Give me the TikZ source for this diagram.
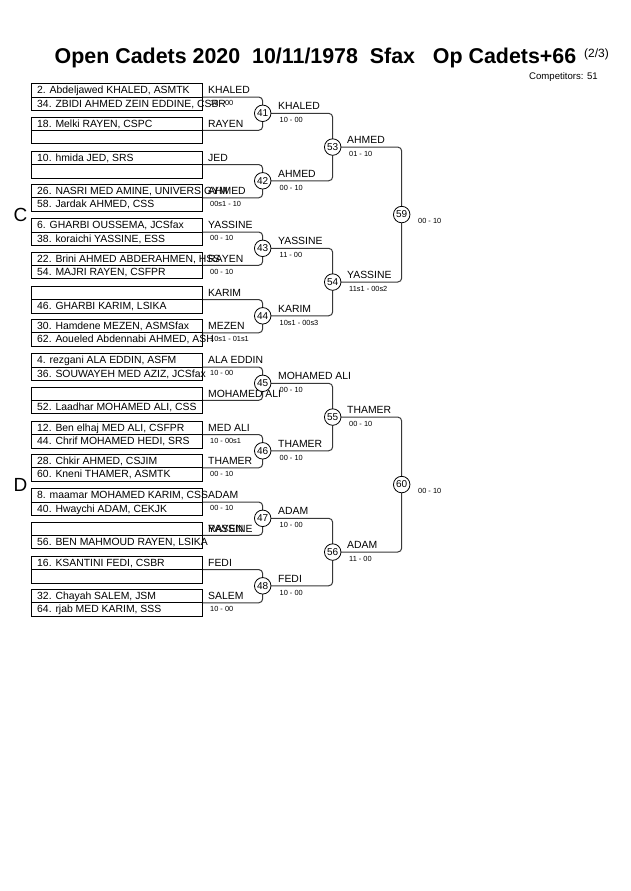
\documentclass[tikz,border=0pt]{standalone}
\usepackage{fontspec}
\setmainfont{Liberation Sans}
\tikzset{
  entrybox/.style={draw=black, line width=0.75pt, minimum width=171pt, minimum height=26.7pt, inner sep=0pt, anchor=north west},
  boxline/.style={draw=black, line width=0.75pt},
  nm/.style={font=\fontsize{10.4}{12}\selectfont, anchor=base west, inner sep=0pt},
  sc/.style={font=\fontsize{7.4}{9}\selectfont, anchor=base west, inner sep=0pt},
  mcirc/.style={circle, draw=black, fill=white, line width=0.8pt, minimum size=16.5pt, inner sep=0pt, font=\fontsize{10}{12}\selectfont},
  link/.style={draw=black!78, line width=1pt, rounded corners=4pt},
  sect/.style={inner sep=0pt, font=\fontsize{19}{21}\selectfont},
}
% #1 id, #2 top, #3 row1, #4 row2, #5 winner, #6 score
\newcommand\ebox[6]{%
  \node[entrybox] (#1) at (31,#2) {};
  \draw[boxline] (#1.west) -- (#1.east);
  \node[nm] (#1r1) at (37,{#2+10.4}) {#3};
  \node[nm] (#1r2) at (37,{#2+23.75}) {#4};
  \node[nm] (#1w) at (208,{#2+10.4}) {#5};
  \node[sc] (#1s) at (210,{#2+22.65}) {#6};
}
% #1 id, #2 center y, #3 name, #4 score
\newcommand\rtwo[4]{%
  \node[nm] (#1n) at (278,{#2-3.6}) {#3};
  \node[sc] (#1s) at (279.5,{#2+9.35}) {#4};
}
\newcommand\rthree[4]{%
  \node[nm] (#1n) at (347,{#2-3.75}) {#3};
  \node[sc] (#1s) at (349,{#2+9.15}) {#4};
}
\begin{document}
\begin{tikzpicture}[x=1pt,y=-1pt]
\useasboundingbox[fill=white] (0,0) rectangle (630,891);

% title
\node[anchor=base west, inner sep=0pt, font=\bfseries\fontsize{21.4}{24}\selectfont] (title) at (54.5,63.3) {Open Cadets 2020~~10/11/1978~~Sfax~~~Op Cadets+66};
\node[anchor=base west, inner sep=0pt, font=\fontsize{12}{14}\selectfont] (pg) at (584,57) {(2/3)};
\node[anchor=base east, inner sep=0pt, font=\fontsize{9.6}{11}\selectfont] (comp) at (598,79) {Competitors: 51};

\node[sect] (lc) at (20.5,214.6) {C};
\node[sect] (ld) at (20.5,484.6) {D};

% entry boxes
\ebox{a41}{83.3}{2. Abdeljawed KHALED, ASMTK}{34. ZBIDI AHMED ZEIN EDDINE, CSBR}{KHALED}{10 - 00}
\ebox{b41}{116.6}{18. Melki RAYEN, CSPC}{}{RAYEN}{}
\ebox{a42}{150.8}{10. hmida JED, SRS}{}{JED}{}
\ebox{b42}{184.1}{26. NASRI MED AMINE, UNIVERS GYM}{58. Jardak AHMED, CSS}{AHMED}{00s1 - 10}
\ebox{a43}{218.3}{6. GHARBI OUSSEMA, JCSfax}{38. koraichi YASSINE, ESS}{YASSINE}{00 - 10}
\ebox{b43}{251.6}{22. Brini AHMED ABDERAHMEN, HSS}{54. MAJRI RAYEN, CSFPR}{RAYEN}{00 - 10}
\ebox{a44}{285.8}{}{46. GHARBI KARIM, LSIKA}{KARIM}{}
\ebox{b44}{319.1}{30. Hamdene MEZEN, ASMSfax}{62. Aoueled Abdennabi AHMED, ASH}{MEZEN}{10s1 - 01s1}
\ebox{a45}{353.3}{4. rezgani ALA EDDIN, ASFM}{36. SOUWAYEH MED AZIZ, JCSfax}{ALA EDDIN}{10 - 00}
\ebox{b45}{386.6}{}{52. Laadhar MOHAMED ALI, CSS}{MOHAMED ALI}{}
\ebox{a46}{420.8}{12. Ben elhaj MED ALI, CSFPR}{44. Chrif MOHAMED HEDI, SRS}{MED ALI}{10 - 00s1}
\ebox{b46}{454.1}{28. Chkir AHMED, CSJIM}{60. Kneni THAMER, ASMTK}{THAMER}{00 - 10}
\ebox{a47}{488.3}{8. maamar MOHAMED KARIM, CSS}{40. Hwaychi ADAM, CEKJK}{ADAM}{00 - 10}
\ebox{b47}{521.6}{}{56. BEN MAHMOUD RAYEN, LSIKA}{RAYEN}{}
\node[nm] (b47w2) at (208,532.0) {YASSINE};
\ebox{a48}{555.8}{16. KSANTINI FEDI, CSBR}{}{FEDI}{}
\ebox{b48}{589.1}{32. Chayah SALEM, JSM}{64. rjab MED KARIM, SSS}{SALEM}{10 - 00}

% match positions
\coordinate (p41) at (262.7,113.3);
\coordinate (p42) at (262.7,180.8);
\coordinate (p43) at (262.7,248.3);
\coordinate (p44) at (262.7,315.8);
\coordinate (p45) at (262.7,383.3);
\coordinate (p46) at (262.7,450.8);
\coordinate (p47) at (262.7,518.3);
\coordinate (p48) at (262.7,585.8);
\coordinate (p53) at (332.7,147.05);
\coordinate (p54) at (332.7,282.05);
\coordinate (p55) at (332.7,417.05);
\coordinate (p56) at (332.7,552.05);
\coordinate (p59) at (401.7,214.55);
\coordinate (p60) at (401.7,484.55);

% connectors
\foreach \m in {41,42,43,44,45,46,47,48}{
  \draw[link] (a\m.east) -| (p\m) |- (b\m.east);
}
\draw[link] (p41) -| (p53) |- (p42);
\draw[link] (p43) -| (p54) |- (p44);
\draw[link] (p45) -| (p55) |- (p46);
\draw[link] (p47) -| (p56) |- (p48);
\draw[link] (p53) -| (p59) |- (p54);
\draw[link] (p55) -| (p60) |- (p56);

% match circles
\foreach \m in {41,42,43,44,45,46,47,48,53,54,55,56,59,60}{
  \node[mcirc] (m\m) at (p\m) {\m};
}

% round 2 labels
\rtwo{w41}{113.3}{KHALED}{10 - 00}
\rtwo{w42}{180.8}{AHMED}{00 - 10}
\rtwo{w43}{248.3}{YASSINE}{11 - 00}
\rtwo{w44}{315.8}{KARIM}{10s1 - 00s3}
\rtwo{w45}{383.3}{MOHAMED ALI}{00 - 10}
\rtwo{w46}{450.8}{THAMER}{00 - 10}
\rtwo{w47}{518.3}{ADAM}{10 - 00}
\rtwo{w48}{585.8}{FEDI}{10 - 00}

% round 3 labels
\rthree{w53}{147.05}{AHMED}{01 - 10}
\rthree{w54}{282.05}{YASSINE}{11s1 - 00s2}
\rthree{w55}{417.05}{THAMER}{00 - 10}
\rthree{w56}{552.05}{ADAM}{11 - 00}

% final scores
\node[sc] (w59s) at (418,223.2) {00 - 10};
\node[sc] (w60s) at (418,493.2) {00 - 10};
\end{tikzpicture}
\end{document}
